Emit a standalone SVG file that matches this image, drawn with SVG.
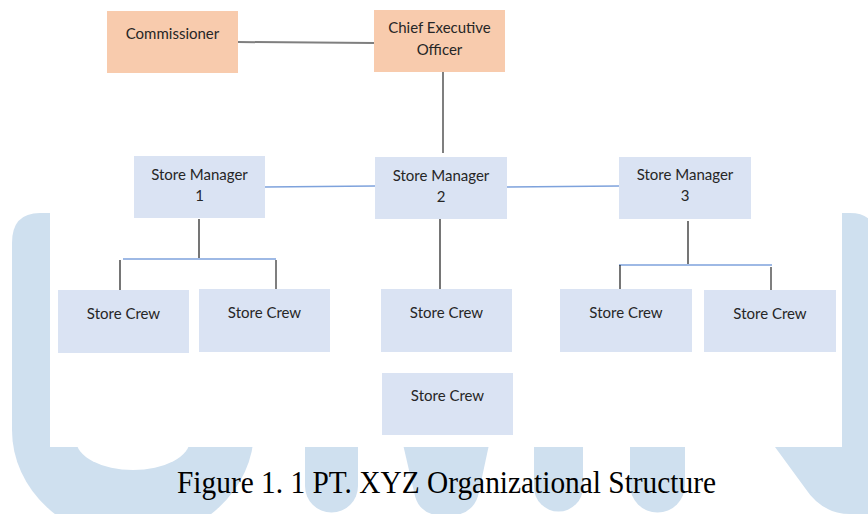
<svg xmlns="http://www.w3.org/2000/svg" width="868" height="514" viewBox="0 0 868 514">
<style>
.wm{fill:#cfe0ef}
.exec{fill:#f8cbad}
.mgr{fill:#dae3f3}
.t{font-family:Lato,"Open Sans","Liberation Sans",sans-serif;font-size:15px;fill:#262626;text-anchor:middle}
.cap{font-family:"Liberation Serif","Times New Roman",serif;font-size:31px;fill:#000}
.gray{stroke:#7f7f7f;stroke-width:2;fill:none}
.blk{stroke:#1a1a1a;stroke-width:1.2;fill:none}
.blue{stroke:#7ea2dc;stroke-width:1.6;fill:none}
</style>
<rect width="868" height="514" fill="#ffffff"/>
<g id="watermark">
<path class="wm" d="M12 243 Q12 213 40 213 L254 213 L254 430 L12 430 Z"/>
<ellipse class="wm" cx="133" cy="430" rx="121" ry="110"/>
<ellipse cx="133" cy="440" rx="57" ry="30" fill="#ffffff"/>
<path class="wm" d="M305 440 L358 440 L358 486 A26.5 26.5 0 0 1 305 486 Z"/>
<path class="wm" d="M402 440 L490 440 L478 496 Q472 516 446 516 Q420 516 415 496 Z"/>
<path class="wm" d="M534 440 L583 440 L583 487 A24.5 24.5 0 0 1 534 487 Z"/>
<path class="wm" d="M630 440 L685 440 L685 485 A27.5 27.5 0 0 1 630 485 Z"/>
<path class="wm" d="M842 213 L850 213 Q876 213 876 240 L876 514 L850 514 Q822 514 805 488 L775 447 L842 447 Z"/>
<rect x="50" y="0" width="792" height="447" fill="#ffffff"/>
</g>
<g id="connectors">
<line class="gray" x1="238" y1="42" x2="374" y2="43"/>
<line class="gray" x1="443" y1="72" x2="443" y2="153"/>
<line class="blue" x1="265" y1="187" x2="375" y2="186"/>
<line class="blue" x1="507" y1="187" x2="619" y2="186"/>
<line class="blk" x1="199" y1="219" x2="199" y2="258"/>
<line class="blue" x1="123" y1="259" x2="276" y2="259"/>
<line class="blk" x1="120" y1="260" x2="120" y2="292"/>
<line class="gray" x1="276" y1="260" x2="276" y2="291"/>
<line class="blk" x1="440" y1="217" x2="440" y2="290"/>
<line class="blk" x1="688" y1="221" x2="688" y2="264"/>
<line class="blue" x1="619" y1="265" x2="772" y2="265"/>
<line class="blk" x1="620" y1="265" x2="620" y2="289"/>
<line class="gray" x1="771" y1="267" x2="771" y2="293"/>
</g>
<g id="commissioner">
<rect class="exec" x="107" y="11" width="131" height="62"/>
<text class="t" x="172.5" y="39">Commissioner</text>
</g>
<g id="ceo">
<rect class="exec" x="374" y="10" width="131" height="62"/>
<text class="t" x="439.5" y="33">Chief Executive</text>
<text class="t" x="439.5" y="54.5">Officer</text>
</g>
<g id="sm1">
<rect class="mgr" x="134" y="156" width="131" height="62"/>
<text class="t" x="199.5" y="180">Store Manager</text>
<text class="t" x="199.5" y="201">1</text>
</g>
<g id="sm2">
<rect class="mgr" x="375" y="157" width="132" height="62"/>
<text class="t" x="441" y="181">Store Manager</text>
<text class="t" x="441" y="202">2</text>
</g>
<g id="sm3">
<rect class="mgr" x="619" y="157" width="132" height="62"/>
<text class="t" x="685" y="180">Store Manager</text>
<text class="t" x="685" y="201">3</text>
</g>
<g id="crew1">
<rect class="mgr" x="58" y="290" width="131" height="63"/>
<text class="t" x="123.5" y="319">Store Crew</text>
</g>
<g id="crew2">
<rect class="mgr" x="199" y="289" width="131" height="63"/>
<text class="t" x="264.5" y="318">Store Crew</text>
</g>
<g id="crew3">
<rect class="mgr" x="381" y="289" width="131" height="63"/>
<text class="t" x="446.5" y="318">Store Crew</text>
</g>
<g id="crew4">
<rect class="mgr" x="382" y="373" width="131" height="62"/>
<text class="t" x="447.5" y="401">Store Crew</text>
</g>
<g id="crew5">
<rect class="mgr" x="560" y="289" width="132" height="63"/>
<text class="t" x="626" y="318">Store Crew</text>
</g>
<g id="crew6">
<rect class="mgr" x="704" y="290" width="132" height="62"/>
<text class="t" x="770" y="319">Store Crew</text>
</g>
<text class="cap" x="177" y="493" textLength="539" lengthAdjust="spacingAndGlyphs">Figure 1. 1 PT. XYZ Organizational Structure</text>
</svg>
